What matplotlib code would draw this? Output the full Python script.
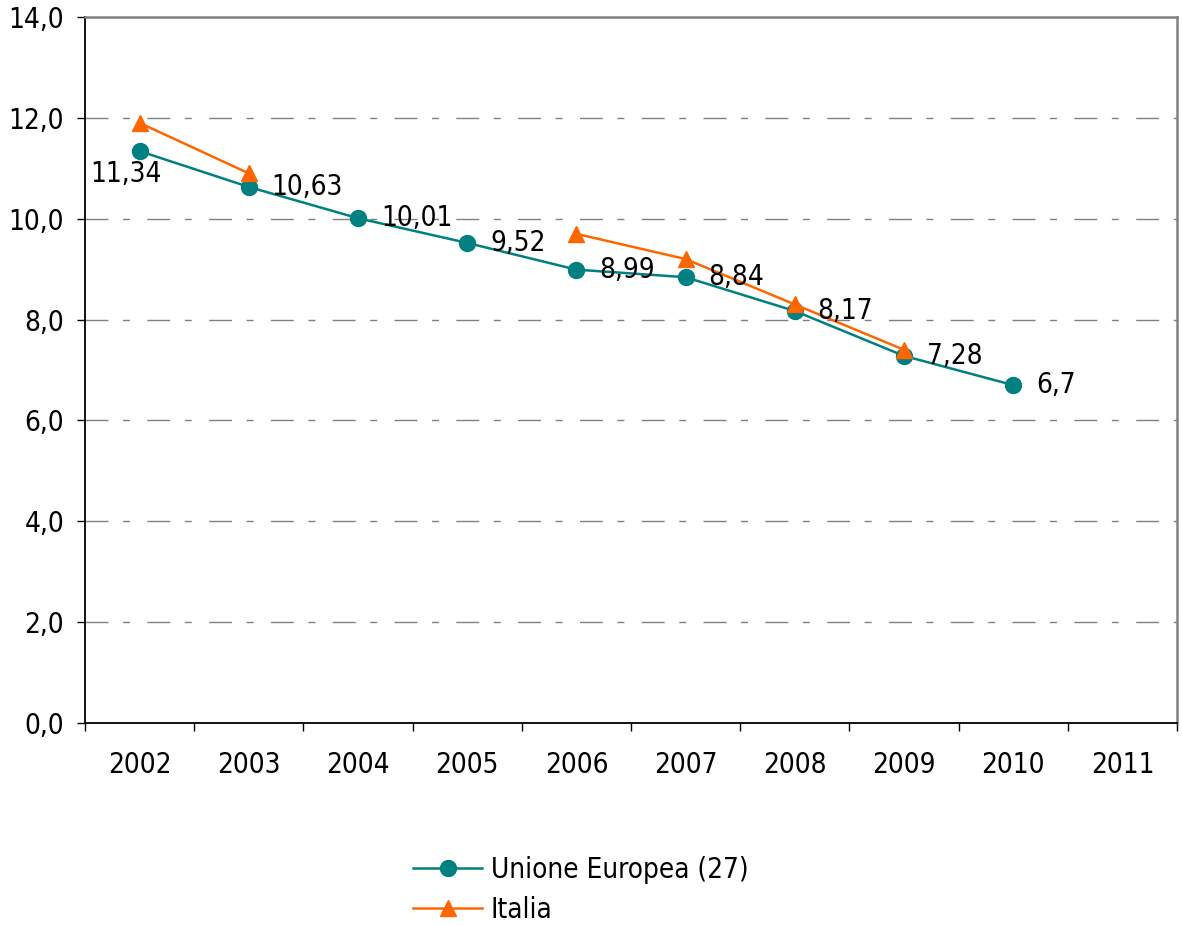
import numpy as np
import matplotlib
matplotlib.use("Agg")
import matplotlib.pyplot as plt
from matplotlib.ticker import FixedLocator, FuncFormatter

plt.rcParams['font.family'] = ['DejaVu Sans']
plt.rcParams['font.stretch'] = 'condensed'

years = ["2002", "2003", "2004", "2005", "2006", "2007", "2008", "2009", "2010", "2011"]
ue_values = [11.34, 10.63, 10.01, 9.52, 8.99, 8.84, 8.17, 7.28, 6.7, np.nan]
it_values = [11.9, 10.9, np.nan, np.nan, 9.7, 9.2, 8.3, 7.4, np.nan, np.nan]
ue_labels = ["11,34", "10,63", "10,01", "9,52", "8,99", "8,84", "8,17", "7,28", "6,7", ""]
yticks = [0, 2, 4, 6, 8, 10, 12, 14]
series_names = ["Unione Europea (27)", "Italia"]

teal = "#008080"
orange = "#FF6600"

W, H = 1182, 925
fig = plt.figure(figsize=(W / 100, H / 100), dpi=100)
ax = fig.add_axes([85 / W, 1 - 723 / H, (1177 - 85) / W, (723 - 17) / H])

x = np.arange(len(years))

for v in [2, 4, 6, 8, 10, 12]:
    ax.axhline(v, color="#808080", lw=1.0, dashes=(16.5, 10.5, 5, 12.5), zorder=1)

ax.plot(x, ue_values, color=teal, lw=1.8, marker="o", markersize=11.5,
        markerfacecolor=teal, markeredgecolor=teal, label=series_names[0], zorder=3)
ax.plot(x, it_values, color=orange, lw=1.8, marker="^", markersize=12,
        markerfacecolor=orange, markeredgecolor=orange, label=series_names[1], zorder=4)

fs = 20
for i, (v, lab) in enumerate(zip(ue_values, ue_labels)):
    if not lab:
        continue
    if i == 0:
        ax.annotate(lab, (x[i], v), xytext=(-10, -16.5), textcoords="offset points",
                    ha="center", va="center", fontsize=fs, zorder=5)
    else:
        ax.annotate(lab, (x[i], v), xytext=(16.5, 0), textcoords="offset points",
                    ha="left", va="center", fontsize=fs, zorder=5)

ax.set_xlim(-0.5, len(years) - 0.5)
ax.set_ylim(0, 14)

ax.set_xticks(x)
ax.set_xticklabels(years, fontsize=fs)
ax.xaxis.set_minor_locator(FixedLocator(np.arange(-0.5, len(years), 1.0)))
ax.tick_params(axis="x", which="major", length=0, pad=20)
ax.tick_params(axis="x", which="minor", length=6, width=1, color="black", direction="out")

ax.set_yticks(yticks)
ax.yaxis.set_major_formatter(FuncFormatter(lambda v, p: f"{v:.1f}".replace(".", ",")))
ax.tick_params(axis="y", which="major", length=6, width=1, pad=9, labelsize=fs, direction="out")

for s in ["left", "bottom"]:
    ax.spines[s].set_color("black")
    ax.spines[s].set_linewidth(1.3)
for s in ["top", "right"]:
    ax.spines[s].set_color("#808080")
    ax.spines[s].set_linewidth(1.8)

fig.legend(loc="upper left", bbox_to_anchor=(413 / W, 1 - 856 / H), frameon=False,
           fontsize=fs, handlelength=2.5, handletextpad=0.3, labelspacing=0.42,
           borderpad=0, borderaxespad=0)

fig.savefig("out.png", dpi=100)
